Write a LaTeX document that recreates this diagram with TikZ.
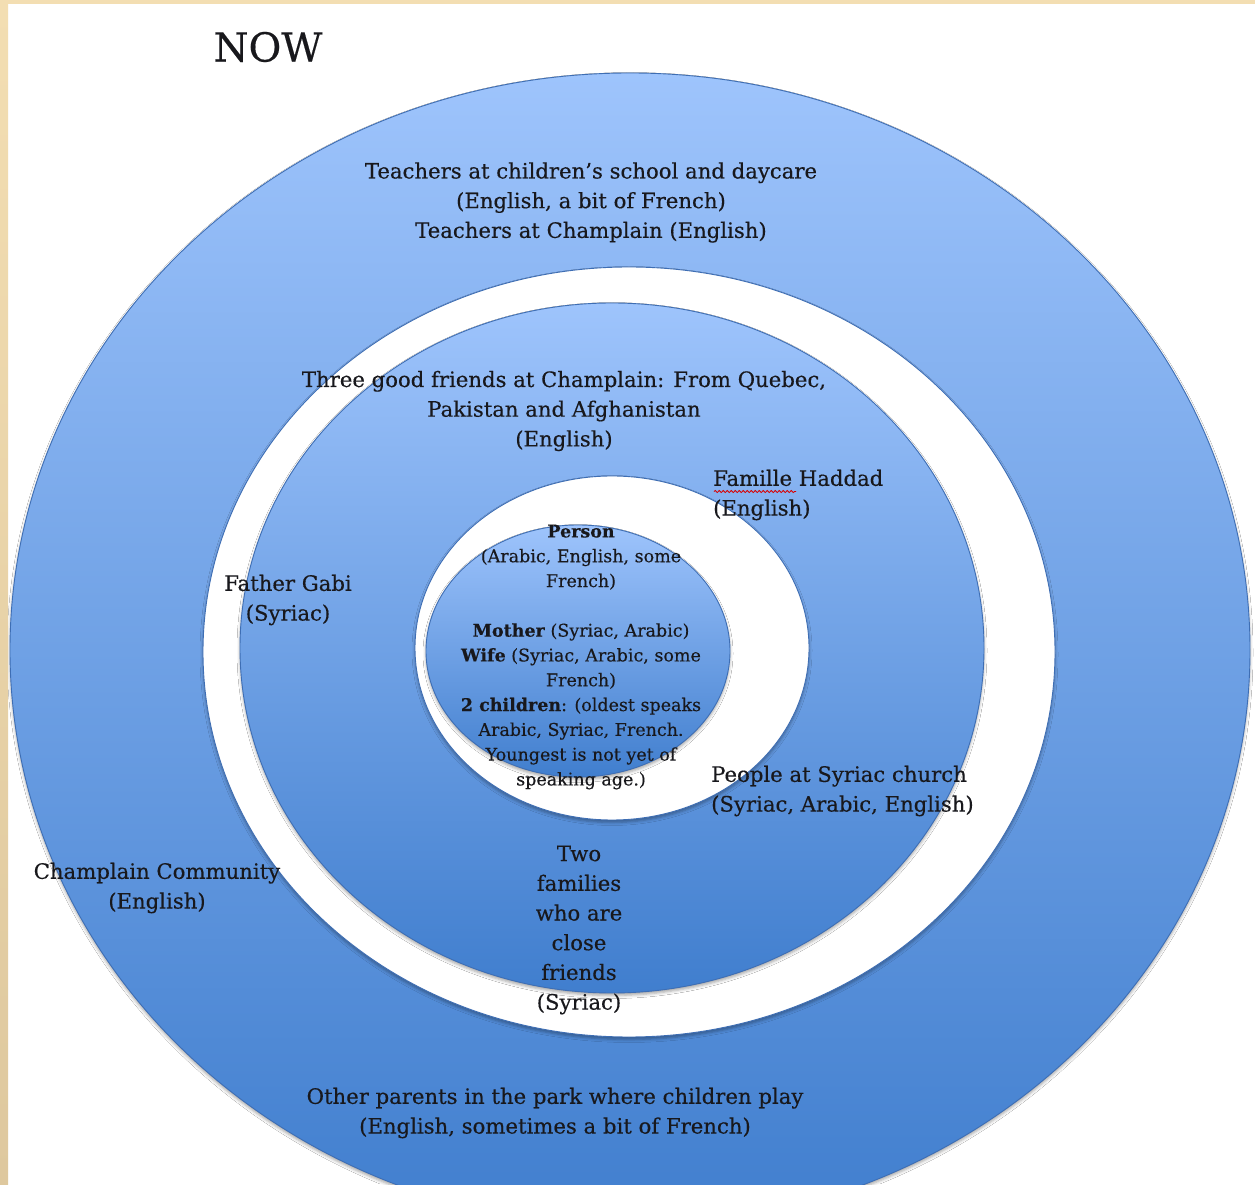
\documentclass[tikz,border=0pt]{standalone}
\usepackage{fontspec}
\setmainfont{DejaVu Serif}[FakeBold=0.35]
\usetikzlibrary{shadows.blur,decorations.pathmorphing}

\definecolor{ink}{RGB}{24,24,28}
\definecolor{edgeblue}{RGB}{62,110,180}
\definecolor{skytop}{RGB}{158,196,252}
\definecolor{skybot}{RGB}{64,126,206}
\definecolor{paper}{RGB}{243,222,178}
\definecolor{paperdark}{RGB}{222,200,158}

\begin{document}
\begin{tikzpicture}[x=1pt,y=1pt,
  softshadow/.style={blur shadow={shadow xshift=0pt,shadow yshift=-2.5pt,
      shadow blur radius=3pt,shadow opacity=35}},
  bluedisc/.style={draw=edgeblue,line width=0.9pt,top color=skytop,
      bottom color=skybot,softshadow},
  whitedisc/.style={draw=edgeblue,line width=0.9pt,fill=white,softshadow},
  lbl/.style={inner sep=0pt,text=ink,align=center,
      font=\fontsize{21.2}{29.7}\selectfont},
  innerlbl/.style={inner sep=0pt,text=ink,align=center,
      font=\fontsize{17.5}{24.8}\selectfont},
]
\useasboundingbox (0,0) rectangle (1255,1184);
\fill[white] (0,0) rectangle (1255,1184);

% concentric circles of contact
\begin{scope}
  \clip (0,0) rectangle (1255,1184);
  \path[bluedisc]  (630,534) ellipse [x radius=620,y radius=577];
  \path[whitedisc] (629,532) ellipse [x radius=426,y radius=385];
  \path[bluedisc]  (612,536) ellipse [x radius=372,y radius=345];
  \path[whitedisc] (612,536) ellipse [x radius=197,y radius=172];
  \path[bluedisc]  (578,533) ellipse [x radius=152,y radius=126];
\end{scope}

% title
\node[inner sep=0pt,text=ink,font=\fontsize{40}{48}\selectfont] (title) at (268,1137) {NOW};

% outer ring
\node[lbl] (teachers) at (591,981.5)
  {Teachers at children’s school and daycare\\(English, a bit of French)\\Teachers at Champlain (English)};
\node[lbl] (community) at (157,296) {Champlain Community\\(English)};
\node[lbl] (park) at (555,71)
  {Other parents in the park where children play\\(English, sometimes a bit of French)};

% middle ring
\node[lbl] (friends) at (564,773)
  {Three good friends at Champlain: From Quebec,\\Pakistan and Afghanistan\\(English)};
\node[lbl,align=left,anchor=west] (haddad) at (713,689) {Famille Haddad\\(English)};
\node[lbl] (gabi) at (288,584) {Father Gabi\\(Syriac)};
\node[lbl,align=left,anchor=west] (church) at (711,393)
  {People at Syriac church\\(Syriac, Arabic, English)};
\node[lbl] (families) at (579,254)
  {Two\\families\\who are\\close\\friends\\(Syriac)};

% spelling mark under "Famille"
\draw[red!85!black,line width=0.8pt,decorate,
      decoration={snake,amplitude=1.1pt,segment length=4pt}]
  ([shift={(1,-22)}]haddad.north west) -- ([shift={(83,-22)}]haddad.north west);

% centre
\node[innerlbl] (person) at (581,527)
  {\textbf{Person}\\(Arabic, English, some\\French)\\[24.8pt]
   \textbf{Mother} (Syriac, Arabic)\\\textbf{Wife} (Syriac, Arabic, some\\French)\\
   \textbf{2 children}: (oldest speaks\\Arabic, Syriac, French.\\Youngest is not yet of\\speaking age.)};

% paper edges
\shade[top color=paper,bottom color=paperdark] (0,0) rectangle (8,1184);
\fill[paper] (0,1180) rectangle (1255,1184);
\end{tikzpicture}
\end{document}
